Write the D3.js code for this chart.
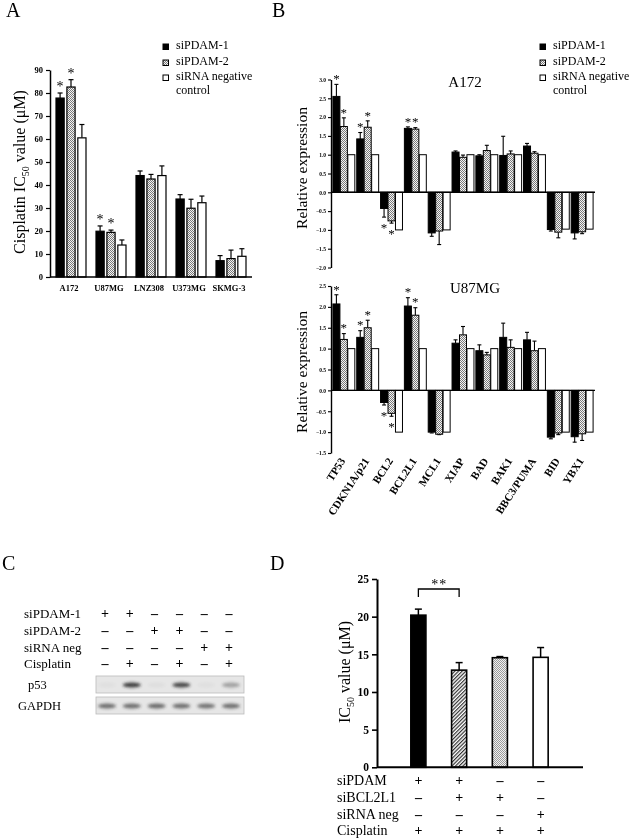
<!DOCTYPE html>
<html><head><meta charset="utf-8">
<script src="https://cdn.jsdelivr.net/npm/d3@7"></script>
<style>
body{margin:0;background:#fff}
svg{display:block;will-change:transform}
text{font-family:"Liberation Serif","Times New Roman",serif;fill:#000}
</style>
</head><body>
<svg id="fig" width="633" height="838"></svg>
<script>
// ---------- DATA ----------
// Panel A
const cellLines = ["A172","U87MG","LNZ308","U373MG","SKMG-3"];
const seriesNames = ["siPDAM-1","siPDAM-2","siRNA negative control"];
const icSiPDAM1 = [77.8, 19.9, 44.1, 33.9, 7.1];
const icSiPDAM1Err = [2.2, 2.3, 2.0, 1.9, 2.2];
const icSiPDAM2 = [82.6, 19.4, 42.6, 29.9, 8.0];
const icSiPDAM2Err = [3.2, 1.0, 2.0, 3.9, 3.7];
const icNeg = [60.5, 13.9, 44.1, 32.3, 9.0];
const icNegErr = [5.8, 2.2, 4.2, 2.9, 3.3];
const aTicks = [0,10,20,30,40,50,60,70,80,90];
const aStars = [[0,0],[0,1],[1,0],[1,1]];

// Panel B
const genes = ["TP53","CDKN1A/p21","BCL2","BCL2L1","MCL1","XIAP","BAD","BAK1","BBC3/PUMA","BID","YBX1"];
const a172SiPDAM1 = [2.55, 1.42, -0.43, 1.70, -1.08, 1.07, 0.97, 0.98, 1.23, -0.99, -1.08];
const a172SiPDAM1Err = [0.32, 0.17, 0.23, 0.04, 0.09, 0.03, 0.03, 0.51, 0.07, 0.04, 0.16];
const a172SiPDAM2 = [1.75, 1.73, -0.76, 1.68, -1.03, 0.93, 1.11, 1.02, 1.04, -1.06, -1.05];
const a172SiPDAM2Err = [0.23, 0.17, 0.06, 0.04, 0.36, 0.06, 0.14, 0.08, 0.04, 0.15, 0.05];
const a172Neg = [1, 1, -1, 1, -1, 1, 1, 1, 1, -0.98, -0.98];
const a172Ticks = [-2,-1.5,-1,-0.5,0,0.5,1,1.5,2,2.5,3];
const a172Stars = [[0,0],[0,1],[1,0],[1,1],[2,0],[2,1],[3,0],[3,1]];
const u87SiPDAM1 = [2.07, 1.27, -0.29, 2.02, -1.00, 1.13, 0.95, 1.27, 1.21, -1.12, -1.11];
const u87SiPDAM1Err = [0.22, 0.16, 0.06, 0.20, 0.02, 0.08, 0.14, 0.34, 0.18, 0.04, 0.13];
const u87SiPDAM2 = [1.22, 1.50, -0.55, 1.80, -1.05, 1.33, 0.85, 1.03, 0.95, -1.02, -1.04];
const u87SiPDAM2Err = [0.14, 0.18, 0.07, 0.18, 0.01, 0.20, 0.06, 0.18, 0.23, 0.04, 0.16];
const u87Neg = [1, 1, -1, 1, -1, 1, 1, 1, 1, -1, -1];
const u87Ticks = [-1.5,-1,-0.5,0,0.5,1,1.5,2,2.5];
const u87Stars = [[0,0],[0,1],[1,0],[1,1],[2,0],[2,1],[3,0],[3,1]];

// Panel C
const cRowLabels = ["siPDAM-1","siPDAM-2","siRNA neg","Cisplatin"];
const cSigns = [
  ["+","+","–","–","–","–"],
  ["–","–","+","+","–","–"],
  ["–","–","–","–","+","+"],
  ["–","+","–","+","–","+"]
];
const cLanes = [1,2,3,4,5,6];
const p53Intensity = [0.03, 0.85, 0.04, 0.8, 0.03, 0.35];
const gapdhIntensity = [0.6, 0.6, 0.62, 0.6, 0.58, 0.6];

// Panel D
const dConds = ["c1","c2","c3","c4"];
const dIC50 = [20.2, 12.9, 14.55, 14.6];
const dErr = [0.8, 1.0, 0.15, 1.3];
const dTicks = [0,5,10,15,20,25];
const dRowLabels = ["siPDAM","siBCL2L1","siRNA neg","Cisplatin"];
const dSigns = [
  ["+","+","–","–"],
  ["–","+","+","–"],
  ["–","–","–","+"],
  ["+","+","+","+"]
];

// ---------- SETUP ----------
const svg = d3.select("#fig");
const defs = svg.append("defs");
function checker(id, dark, light){
  const p = defs.append("pattern").attr("id",id).attr("width",2).attr("height",2).attr("patternUnits","userSpaceOnUse");
  p.append("rect").attr("width",2).attr("height",2).attr("fill",light);
  p.append("rect").attr("width",1).attr("height",1).attr("fill",dark);
  p.append("rect").attr("x",1).attr("y",1).attr("width",1).attr("height",1).attr("fill",dark);
}
checker("chk","#7a7a7a","#f4f4f4");
checker("chkD","#9a9a9a","#f0f0f0");
const hp = defs.append("pattern").attr("id","hatch").attr("width",2.6).attr("height",2.6)
  .attr("patternUnits","userSpaceOnUse").attr("patternTransform","rotate(45)");
hp.append("rect").attr("width",2.6).attr("height",2.6).attr("fill","#fff");
hp.append("line").attr("x1",0).attr("y1",0).attr("x2",0).attr("y2",2.6).attr("stroke","#333").attr("stroke-width",2.4);
const blur = defs.append("filter").attr("id","blur").attr("x","-50%").attr("y","-50%").attr("width","200%").attr("height","200%");
blur.append("feGaussianBlur").attr("stdDeviation",1.6);

const fills = ["#000","url(#chk)","#fff"];

function styleAxis(ax, fs, sw){
  ax.select(".domain").attr("stroke","#000").attr("stroke-width",sw);
  ax.selectAll(".tick line").attr("stroke","#000").attr("stroke-width",sw*0.8);
  ax.selectAll(".tick text").attr("font-family","'Liberation Serif',serif").attr("font-weight","bold")
    .attr("font-size",fs).attr("fill","#000");
}

function star(g, x, yc, fs){
  g.append("text").attr("x",x).attr("y",yc + fs*0.52).attr("text-anchor","middle")
   .attr("font-size",fs).attr("fill","#666").text("*");
}

// ---------- PANEL A ----------
(function(){
  const g = svg.append("g");
  const x = d3.scaleBand().domain(cellLines).range([51,251]).paddingInner(0.25).paddingOuter(0.125);
  const xi = d3.scaleBand().domain(seriesNames).range([0,x.bandwidth()]).paddingInner(0.25);
  const y = d3.scaleLinear().domain([0,90]).range([277,70]);
  const vals = [icSiPDAM1, icSiPDAM2, icNeg];
  const errs = [icSiPDAM1Err, icSiPDAM2Err, icNegErr];
  seriesNames.forEach((s,si)=>{
    cellLines.forEach((c,i)=>{
      const bx = x(c)+xi(s), w = xi.bandwidth(), v = vals[si][i], e = errs[si][i];
      const cx = bx + w/2;
      g.append("line").attr("x1",cx).attr("x2",cx).attr("y1",y(v)).attr("y2",y(v+e)).attr("stroke","#000").attr("stroke-width",1.2);
      g.append("line").attr("x1",cx-2.5).attr("x2",cx+2.5).attr("y1",y(v+e)).attr("y2",y(v+e)).attr("stroke","#000").attr("stroke-width",1.2);
      g.append("rect").attr("x",bx).attr("y",y(v)).attr("width",w).attr("height",y(0)-y(v))
        .attr("fill",fills[si]).attr("stroke","#000").attr("stroke-width",1.2);
    });
  });
  aStars.forEach(([i,si])=>{
    const cx = x(cellLines[i])+xi(seriesNames[si])+xi.bandwidth()/2;
    star(g, cx, y(vals[si][i]+errs[si][i])-9, 14);
  });
  const ax = g.append("g").attr("transform","translate(50,0)")
    .call(d3.axisLeft(y).tickValues(aTicks).tickSize(4).tickSizeOuter(0).tickPadding(3));
  styleAxis(ax, 8.5, 1.5);
  g.append("line").attr("x1",50).attr("x2",252).attr("y1",y(0)).attr("y2",y(0)).attr("stroke","#000").attr("stroke-width",1.6);
  cellLines.forEach(c=>{
    g.append("text").attr("x",x(c)+x.bandwidth()/2-2).attr("y",291).attr("text-anchor","middle")
      .attr("font-size",8.5).attr("font-weight","bold").text(c);
  });
  const yl = g.append("text").attr("transform","translate(25,172) rotate(-90)").attr("text-anchor","middle").attr("font-size",16);
  yl.append("tspan").text("Cisplatin IC");
  yl.append("tspan").attr("font-size",10).attr("dy",4).text("50");
  yl.append("tspan").attr("dy",-4).text(" value (μM)");
  // legend
  const ly = [45,61,76];
  seriesNames.forEach((s,si)=>{
    g.append("rect").attr("x",163).attr("y",ly[si]-1).attr("width",5.5).attr("height",5.5)
      .attr("fill",fills[si]).attr("stroke","#000").attr("stroke-width",1);
  });
  g.append("text").attr("x",176).attr("y",49).attr("font-size",12).text("siPDAM-1");
  g.append("text").attr("x",176).attr("y",65).attr("font-size",12).text("siPDAM-2");
  g.append("text").attr("x",176).attr("y",80).attr("font-size",12).text("siRNA negative");
  g.append("text").attr("x",176).attr("y",94).attr("font-size",12).text("control");
  svg.append("text").attr("x",6).attr("y",17).attr("font-size",20).text("A");
})();

// ---------- PANEL B ----------
function drawB(cfg){
  const g = svg.append("g");
  const x = d3.scaleBand().domain(genes).range([331,595]).paddingInner(0.08).paddingOuter(0.08);
  const xi = d3.scaleBand().domain(seriesNames).range([0,x.bandwidth()]).paddingInner(0.06);
  const y = d3.scaleLinear().domain(cfg.domain).range(cfg.range);
  const vals = cfg.vals, errs = cfg.errs;
  seriesNames.forEach((s,si)=>{
    genes.forEach((gname,i)=>{
      const bx = x(gname)+xi(s), w = xi.bandwidth(), v = vals[si][i], e = errs[si] ? errs[si][i] : 0;
      const cx = bx + w/2;
      if (e > 0){
        const ve = v >= 0 ? v+e : v-e;
        g.append("line").attr("x1",cx).attr("x2",cx).attr("y1",y(v)).attr("y2",y(ve)).attr("stroke","#000").attr("stroke-width",1.1);
        g.append("line").attr("x1",cx-2).attr("x2",cx+2).attr("y1",y(ve)).attr("y2",y(ve)).attr("stroke","#000").attr("stroke-width",1.1);
      }
      g.append("rect").attr("x",bx).attr("y",Math.min(y(v),y(0))).attr("width",w).attr("height",Math.abs(y(0)-y(v)))
        .attr("fill",fills[si]).attr("stroke","#000").attr("stroke-width",1);
    });
  });
  cfg.stars.forEach(([i,si])=>{
    const cx = x(genes[i])+xi(seriesNames[si])+xi.bandwidth()/2;
    const v = vals[si][i], e = errs[si][i];
    if (v >= 0) star(g, cx, y(v+e)-8, 13);
    else star(g, cx, y(v-e)+8, 13);
  });
  const ax = g.append("g").attr("transform","translate(331,0)")
    .call(d3.axisLeft(y).tickValues(cfg.ticks).tickSize(3).tickSizeOuter(0).tickPadding(2).tickFormat(d3.format(".1f")));
  styleAxis(ax, 5.5, 1.4);
  g.append("line").attr("x1",331).attr("x2",595).attr("y1",y(0)).attr("y2",y(0)).attr("stroke","#000").attr("stroke-width",1.4);
  g.append("text").attr("x",cfg.titleX).attr("y",cfg.titleY).attr("text-anchor","middle").attr("font-size",15).text(cfg.title);
  g.append("text").attr("transform",`translate(307,${cfg.labelY}) rotate(-90)`).attr("text-anchor","middle")
    .attr("font-size",15.5).text("Relative expression");
  return {g, x};
}
drawB({domain:[-2,3], range:[267.5,79.5], vals:[a172SiPDAM1,a172SiPDAM2,a172Neg], errs:[a172SiPDAM1Err,a172SiPDAM2Err,null],
  ticks:a172Ticks, stars:a172Stars, title:"A172", titleX:465, titleY:87, labelY:168});
const bb = drawB({domain:[-1.5,2.5], range:[453,286], vals:[u87SiPDAM1,u87SiPDAM2,u87Neg], errs:[u87SiPDAM1Err,u87SiPDAM2Err,null],
  ticks:u87Ticks, stars:u87Stars, title:"U87MG", titleX:475, titleY:293, labelY:372});
genes.forEach(gname=>{
  const cx = bb.x(gname)+bb.x.bandwidth()/2;
  bb.g.append("text").attr("transform",`translate(${cx+2},461) rotate(-57)`).attr("text-anchor","end")
    .attr("font-size",11).attr("font-weight","bold").text(gname);
});
(function(){
  const ly = [45,61,76];
  seriesNames.forEach((s,si)=>{
    svg.append("rect").attr("x",540).attr("y",ly[si]-1).attr("width",5.5).attr("height",5.5)
      .attr("fill",fills[si]).attr("stroke","#000").attr("stroke-width",1);
  });
  svg.append("text").attr("x",553).attr("y",49).attr("font-size",12).text("siPDAM-1");
  svg.append("text").attr("x",553).attr("y",65).attr("font-size",12).text("siPDAM-2");
  svg.append("text").attr("x",553).attr("y",80).attr("font-size",12).text("siRNA negative");
  svg.append("text").attr("x",553).attr("y",94).attr("font-size",12).text("control");
  svg.append("text").attr("x",272).attr("y",17).attr("font-size",20).text("B");
})();

// ---------- PANEL C ----------
(function(){
  const g = svg.append("g");
  svg.append("text").attr("x",2).attr("y",570).attr("font-size",20).text("C");
  const lx = d3.scalePoint().domain(cLanes).range([105,229]);
  const rowY = [618,635,652,668];
  cRowLabels.forEach((r,ri)=>{
    g.append("text").attr("x",24).attr("y",rowY[ri]).attr("font-size",13).text(r);
    cLanes.forEach((l,li)=>{
      g.append("text").attr("x",lx(l)).attr("y",rowY[ri]).attr("text-anchor","middle").attr("font-size",14).attr("font-weight","bold").text(cSigns[ri][li]);
    });
  });
  const blots = [{label:"p53", lx:28, y0:676, h:17, ints:p53Intensity},{label:"GAPDH", lx:18, y0:697, h:17, ints:gapdhIntensity}];
  blots.forEach(b=>{
    g.append("rect").attr("x",96).attr("y",b.y0).attr("width",148).attr("height",b.h).attr("fill","#e6e6e6").attr("stroke","#bbb").attr("stroke-width",0.8);
    cLanes.forEach((l,li)=>{
      const a = b.ints[li];
      g.append("ellipse").attr("cx",lx(l)+2).attr("cy",b.y0+b.h/2+0.5).attr("rx",9).attr("ry",2.6)
        .attr("fill","#222").attr("opacity",a).attr("filter","url(#blur)");
    });
    g.append("text").attr("x",b.lx).attr("y",b.y0+b.h/2+4.5).attr("font-size",12.5).text(b.label);
  });
})();

// ---------- PANEL D ----------
(function(){
  const g = svg.append("g");
  svg.append("text").attr("x",270).attr("y",570).attr("font-size",20).text("D");
  const x = d3.scaleBand().domain(dConds).range([398,561]).paddingInner(0.63).paddingOuter(0.315);
  const y = d3.scaleLinear().domain([0,25]).range([767.3,579]);
  const dFills = ["#000","url(#hatch)","url(#chkD)","#fff"];
  dConds.forEach((c,i)=>{
    const bx = x(c), w = x.bandwidth(), cx = bx+w/2, v = dIC50[i], e = dErr[i];
    g.append("line").attr("x1",cx).attr("x2",cx).attr("y1",y(v)).attr("y2",y(v+e)).attr("stroke","#000").attr("stroke-width",1.5);
    g.append("line").attr("x1",cx-3.5).attr("x2",cx+3.5).attr("y1",y(v+e)).attr("y2",y(v+e)).attr("stroke","#000").attr("stroke-width",1.5);
    g.append("rect").attr("x",bx).attr("y",y(v)).attr("width",w).attr("height",y(0)-y(v))
      .attr("fill",dFills[i]).attr("stroke","#000").attr("stroke-width",1.6);
  });
  const ax = g.append("g").attr("transform","translate(377,0)")
    .call(d3.axisLeft(y).tickValues(dTicks).tickSize(5).tickSizeOuter(0).tickPadding(3));
  styleAxis(ax, 11.5, 2);
  g.append("line").attr("x1",377).attr("x2",583).attr("y1",y(0)).attr("y2",y(0)).attr("stroke","#000").attr("stroke-width",2);
  // significance bracket
  const c0 = x(dConds[0])+x.bandwidth()/2, c1 = x(dConds[1])+x.bandwidth()/2;
  g.append("path").attr("d",`M${c0},597 V589 H${c1} V597`).attr("fill","none").attr("stroke","#000").attr("stroke-width",1.3);
  star(g, (c0+c1)/2-4, 582, 14);
  star(g, (c0+c1)/2+4, 582, 14);
  const yl = g.append("text").attr("transform","translate(350,672) rotate(-90)").attr("text-anchor","middle").attr("font-size",16);
  yl.append("tspan").text("IC");
  yl.append("tspan").attr("font-size",10).attr("dy",4).text("50");
  yl.append("tspan").attr("dy",-4).text(" value  (μM)");
  const rowY = [785,802,819,835];
  dRowLabels.forEach((r,ri)=>{
    g.append("text").attr("x",337).attr("y",rowY[ri]).attr("font-size",14).text(r);
    dConds.forEach((c,ci)=>{
      g.append("text").attr("x",x(c)+x.bandwidth()/2).attr("y",rowY[ri]).attr("text-anchor","middle").attr("font-size",14).attr("font-weight","bold").text(dSigns[ri][ci]);
    });
  });
})();
</script>
</body></html>
